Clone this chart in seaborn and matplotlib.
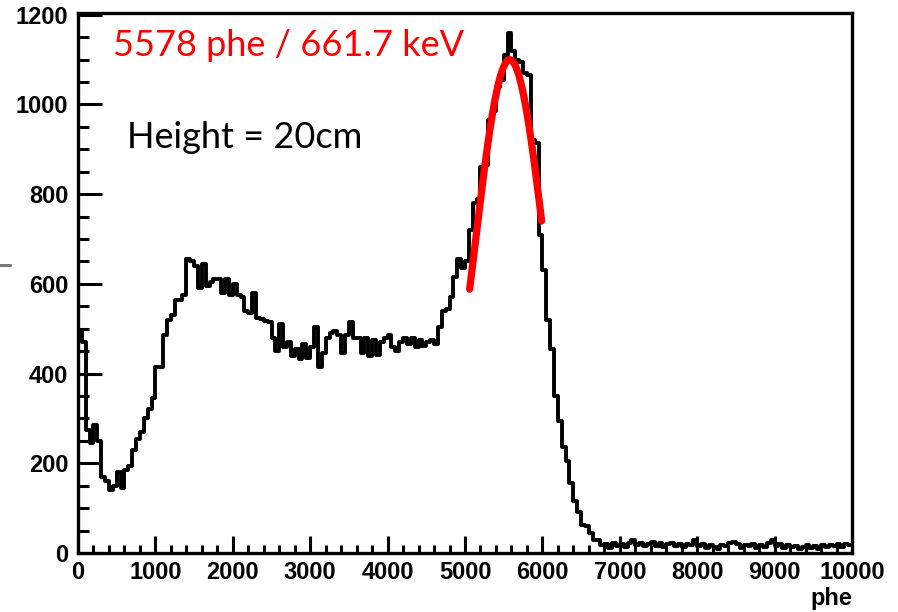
import numpy as np
import pandas as pd
import seaborn as sns
import matplotlib
matplotlib.use("Agg")
import matplotlib.pyplot as plt
from matplotlib.lines import Line2D
from matplotlib.ticker import MultipleLocator

# ---- data ----
bin_width = 50
x_min, x_max = 0, 10000
counts_0k = [495, 470, 275, 245, 285, 250, 170, 160, 140, 150, 180, 145, 185, 195, 230, 255, 270, 300, 320, 345]
counts_1k = [415, 415, 485, 520, 530, 565, 565, 575, 655, 650, 640, 590, 645, 595, 605, 610, 612, 580, 612, 575]
counts_2k = [600, 575, 570, 540, 535, 580, 525, 522, 518, 515, 480, 450, 510, 460, 470, 440, 455, 432, 465, 435]
counts_3k = [460, 505, 415, 445, 480, 490, 495, 485, 445, 485, 515, 480, 480, 445, 480, 440, 475, 442, 470, 480]
counts_4k = [485, 460, 450, 470, 480, 465, 480, 460, 475, 462, 470, 475, 465, 505, 540, 545, 570, 615, 655, 635]
counts_5k = [650, 720, 780, 790, 860, 865, 965, 985, 1040, 1055, 1110, 1160, 1120, 1100, 1095, 1070, 1065, 920, 915, 710]
counts_6k = [630, 520, 455, 350, 295, 237, 205, 155, 115, 92, 62, 60, 45, 30, 28, 18, 20, 12, 22, 15]
counts_7k = [20, 14, 22, 28, 18, 22, 15, 20, 24, 16, 22, 14, 20, 22, 15, 21, 14, 20, 18, 28]
counts_8k = [16, 20, 12, 18, 14, 10, 18, 15, 22, 24, 20, 12, 18, 15, 20, 12, 18, 14, 22, 30]
counts_9k = [16, 20, 12, 18, 14, 16, 10, 14, 18, 12, 16, 10, 18, 13, 18, 15, 20, 14, 20, 18]

# Gaussian fit parameters (photopeak)
fit_amp = 1100
fit_mean = 5578
fit_sigma = 463
fit_range = (5060, 5990)

title_text = "5578 phe / 661.7 keV"
note_text = "Height = 20cm"
x_ticks = [0, 1000, 2000, 3000, 4000, 5000, 6000, 7000, 8000, 9000, 10000]
y_ticks = [0, 200, 400, 600, 800, 1000, 1200]

counts = (counts_0k + counts_1k + counts_2k + counts_3k + counts_4k +
          counts_5k + counts_6k + counts_7k + counts_8k + counts_9k)
edges = np.arange(x_min, x_max + bin_width, bin_width)
centers = edges[:-1] + bin_width / 2
df = pd.DataFrame({"phe": centers, "n": counts})

# ---- figure ----
sns.set_style("ticks")
plt.rcParams["font.family"] = ["Liberation Sans", "DejaVu Sans"]
W, H = 898, 612
fig = plt.figure(figsize=(W / 100, H / 100), dpi=100)
ax = fig.add_axes([78 / W, 1 - 553 / H, (852 - 78) / W, (553 - 13) / H])

sns.histplot(data=df, x="phe", weights="n", binwidth=bin_width,
             binrange=(x_min, x_max), element="step",
             fill=False, color="black", linewidth=2.8, ax=ax)

xf = np.linspace(fit_range[0], fit_range[1], 300)
yf = fit_amp * np.exp(-0.5 * ((xf - fit_mean) / fit_sigma) ** 2)
sns.lineplot(x=xf, y=yf, color="red", linewidth=5.2, ax=ax, sort=False)

ax.set_xlim(x_min, x_max)
ax.set_ylim(0, 1204)
ax.set_xticks(x_ticks)
ax.set_yticks(y_ticks)
ax.xaxis.set_minor_locator(MultipleLocator(200))
ax.yaxis.set_minor_locator(MultipleLocator(50))
ax.tick_params(axis="both", which="both", direction="in", width=2.2,
               colors="black", labelcolor="black")
ax.tick_params(axis="y", which="major", length=17, pad=7, labelsize=17)
ax.tick_params(axis="y", which="minor", length=8)
ax.tick_params(axis="x", which="major", length=12, pad=6, labelsize=17)
ax.tick_params(axis="x", which="minor", length=6)
for lab in ax.get_xticklabels() + ax.get_yticklabels():
    lab.set_fontweight("bold")
    lab.set_family(["Liberation Sans", "DejaVu Sans"])
for s in ax.spines.values():
    s.set_linewidth(2.4)
    s.set_color("black")
    s.set_visible(True)

ax.set_ylabel("")
ax.set_xlabel("phe", loc="right", fontsize=17, fontweight="bold",
              color="black", labelpad=2)

fig.text(113 / W, 1 - 45 / H, title_text, color="red", fontsize=26,
         family=["Lato", "DejaVu Sans"], va="center", ha="left")
fig.text(127 / W, 1 - 138 / H, note_text, color="black", fontsize=26,
         family=["Lato", "DejaVu Sans"], va="center", ha="left")

fig.add_artist(Line2D([0, 10 / W], [1 - 265 / H, 1 - 265 / H],
                      color="#777777", linewidth=2.2))

fig.savefig("out.png", dpi=100)
